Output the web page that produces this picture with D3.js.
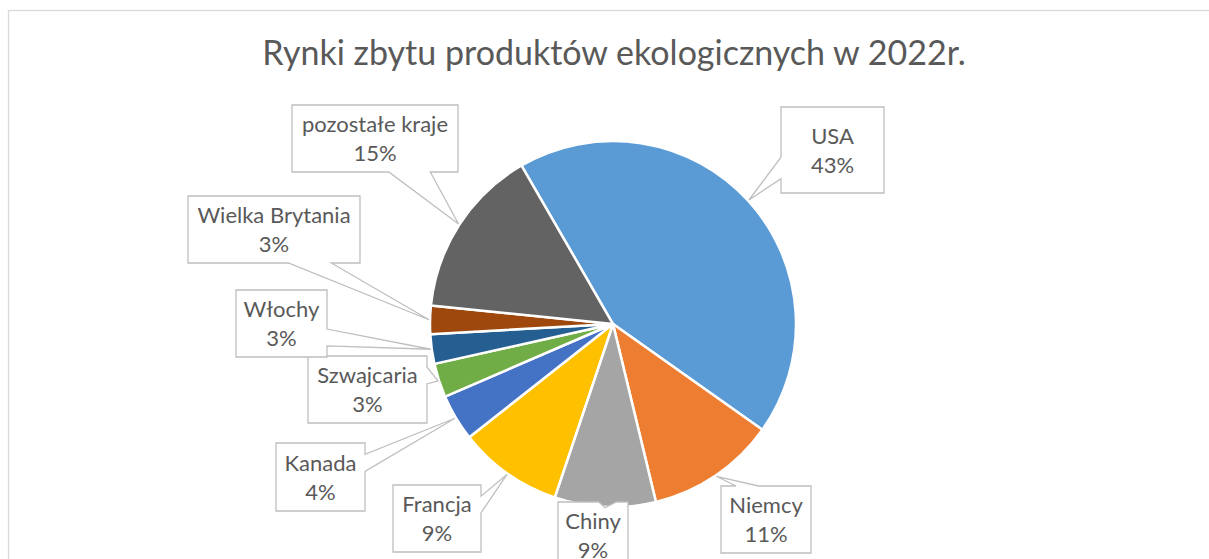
<!DOCTYPE html>
<html>
<head>
<meta charset="utf-8">
<script src="https://cdn.jsdelivr.net/npm/d3@7"></script>
<style>
    body { margin: 0; background: #fff; }
    svg text { font-family: Lato, "Liberation Sans", sans-serif; fill: #595959; }
</style>
</head>
<body>
<div id="chart"></div>
<script>
const title = "Rynki zbytu produktów ekologicznych w 2022r.";
const countries = ["USA", "Niemcy", "Chiny", "Francja", "Kanada", "Szwajcaria", "Włochy", "Wielka Brytania", "pozostałe kraje"];
const shares = [43.0, 11.4, 8.9, 9.2, 4.1, 3.0, 2.6, 2.5, 15.0];
const colors = ["#5B9BD5", "#ED7D31", "#A5A5A5", "#FFC000", "#4472C4", "#70AD47", "#255E91", "#9E480E", "#636363"];

// label boxes were dragged around by hand in the original, so keep them as [x, y, w, h]
const calloutBoxes = [
    [781, 107, 103, 86],
    [721, 486, 90, 67],
    [558, 502, 70, 67],
    [393, 485, 88, 67],
    [276, 443, 89, 68],
    [308, 356, 119, 67],
    [236, 290, 91, 67],
    [188, 196, 172, 67],
    [292, 105, 166, 67]
];

const width = 1209, height = 559;
const cx = 613, cy = 324, radius = 183;

const svg = d3.select("#chart").append("svg")
    .attr("width", width)
    .attr("height", height);

// chart area border (runs off the right and bottom edge)
svg.append("rect")
    .attr("x", 8.5)
    .attr("y", 10.5)
    .attr("width", 1400)
    .attr("height", 800)
    .attr("fill", "#fff")
    .attr("stroke", "#D9D9D9")
    .attr("stroke-width", 1.3);

svg.append("text")
    .attr("x", 614)
    .attr("y", 65)
    .attr("text-anchor", "middle")
    .style("font-size", "34px")
    .text(title);

const data = countries.map((c, i) => ({ country: c, value: shares[i], color: colors[i] }));
const total = d3.sum(shares);
const fmt = d3.format(".0%");

const pie = d3.pie()
    .value(d => d.value)
    .sort(null)
    .startAngle(-30 * Math.PI / 180)
    .endAngle(330 * Math.PI / 180);

const arcs = pie(data);
const arc = d3.arc().innerRadius(0).outerRadius(radius);
const edge = d3.arc().innerRadius(radius + 1).outerRadius(radius + 1);

const g = svg.append("g").attr("transform", `translate(${cx}, ${cy})`);

g.selectAll("path")
    .data(arcs)
    .enter()
    .append("path")
        .attr("d", arc)
        .attr("fill", d => d.data.color)
        .attr("stroke", "#fff")
        .attr("stroke-width", 2.5)
        .attr("stroke-linejoin", "round");

// office "wedgeRectCallout": wedge sits on the side facing the tip
function wedgeCallout(box, tip){
    const [l, t, w, h] = box;
    const r = l + w, b = t + h;
    const dxPos = tip[0] - (l + w / 2);
    const dyPos = tip[1] - (t + h / 2);
    const horizontal = Math.abs(dxPos * h) - Math.abs(dyPos * w) > 0;
    const x1 = l + w * (dxPos > 0 ? 7 : 2) / 12;
    const x2 = l + w * (dxPos > 0 ? 10 : 5) / 12;
    const y1 = t + h * (dyPos > 0 ? 7 : 2) / 12;
    const y2 = t + h * (dyPos > 0 ? 10 : 5) / 12;

    const p = d3.path();
    p.moveTo(l, t);
    if (!horizontal && dyPos < 0) { p.lineTo(x1, t); p.lineTo(tip[0], tip[1]); p.lineTo(x2, t); }
    p.lineTo(r, t);
    if (horizontal && dxPos > 0) { p.lineTo(r, y1); p.lineTo(tip[0], tip[1]); p.lineTo(r, y2); }
    p.lineTo(r, b);
    if (!horizontal && dyPos >= 0) { p.lineTo(x2, b); p.lineTo(tip[0], tip[1]); p.lineTo(x1, b); }
    p.lineTo(l, b);
    if (horizontal && dxPos <= 0) { p.lineTo(l, y2); p.lineTo(tip[0], tip[1]); p.lineTo(l, y1); }
    p.closePath();
    return p.toString();
}

const labels = svg.append("g")
    .selectAll("g")
    .data(arcs)
    .enter()
    .append("g");

labels.append("path")
    .attr("d", (d, i) => {
        const c = edge.centroid(d);
        return wedgeCallout(calloutBoxes[i], [c[0] + cx, c[1] + cy]);
    })
    .attr("fill", "#fff")
    .attr("stroke", "#BFBFBF")
    .attr("stroke-width", 1.3)
    .attr("stroke-linejoin", "miter");

const labelText = labels.append("text")
    .attr("text-anchor", "middle")
    .style("font-size", "22px");

labelText.append("tspan")
    .attr("x", (d, i) => calloutBoxes[i][0] + calloutBoxes[i][2] / 2)
    .attr("y", (d, i) => calloutBoxes[i][1] + calloutBoxes[i][3] / 2 - 6.5)
    .text(d => d.data.country);

labelText.append("tspan")
    .attr("x", (d, i) => calloutBoxes[i][0] + calloutBoxes[i][2] / 2)
    .attr("y", (d, i) => calloutBoxes[i][1] + calloutBoxes[i][3] / 2 + 22.5)
    .text(d => fmt(d.data.value / total));
</script>
</body>
</html>
